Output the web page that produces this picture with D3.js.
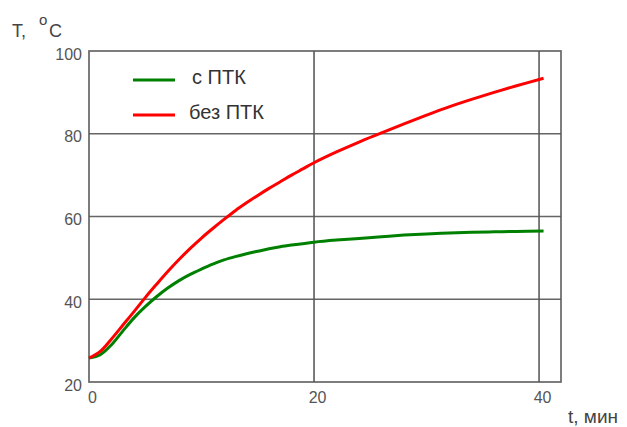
<!DOCTYPE html>
<html><head><meta charset="utf-8">
<script src="https://cdn.jsdelivr.net/npm/d3@7"></script>
<style>
html,body{margin:0;padding:0;background:#fff;}
svg{display:block;font-family:"Liberation Sans",Arial,sans-serif;}
</style></head>
<body><svg id="c" width="627" height="427"></svg>
<script>
// Data
const timesRed = [0,1,2,3,4,5,6,7,8,9,10,11,12,13,14,15,16,17,18,19,20,22,24,26,28,30,32,34,36,38,40.4];
const tempRed  = [25.8,27.4,30.4,33.7,37.0,40.4,43.6,46.7,49.6,52.3,54.8,57.1,59.3,61.4,63.3,65.1,66.8,68.4,70.0,71.5,73.0,75.6,78.0,80.2,82.4,84.5,86.5,88.3,90.0,91.6,93.4];
const timesGreen = [0,1,2,3,4,5,6,7,8,9,10,11,12,13,14,15,16,17,18,20,22,24,26,28,30,32,34,36,38,40.4];
const tempGreen  = [25.8,26.6,29.0,32.3,35.5,38.2,40.6,42.7,44.5,46.0,47.3,48.5,49.5,50.3,51.0,51.6,52.2,52.7,53.1,53.8,54.3,54.7,55.1,55.5,55.8,56.0,56.2,56.3,56.4,56.5];
const xTicks = [0,20,40];
const yTicks = [20,40,60,80,100];
const seriesNames = ["с ПТК","без ПТК"];
const seriesColors = ["#008000","#ff0000"];

const svg = d3.select("#c");
const L=89, R=561, T=51, B=382;
const x = d3.scaleLinear().domain([0,41.95]).range([L,R]);
const y = d3.scaleLinear().domain([20,100]).range([B,T]);

const gridColor = "#555";
// grid
svg.append("g").selectAll("line").data([20,40]).join("line")
  .attr("x1",d=>x(d)).attr("x2",d=>x(d)).attr("y1",T).attr("y2",B)
  .attr("stroke",gridColor).attr("stroke-width",1.7).attr("opacity",0.9);
svg.append("g").selectAll("line").data([40,60,80]).join("line")
  .attr("x1",L).attr("x2",R).attr("y1",d=>y(d)).attr("y2",d=>y(d))
  .attr("stroke",gridColor).attr("stroke-width",1.7).attr("opacity",0.9);
// frame
svg.append("rect").attr("x",L).attr("y",T).attr("width",R-L).attr("height",B-T)
  .attr("fill","none").attr("stroke",gridColor).attr("stroke-width",1.7).attr("opacity",0.9);

// axes labels
const yAxis = d3.axisLeft(y).tickValues(yTicks).tickSize(0).tickPadding(7).tickFormat(d3.format("d"));
const gy = svg.append("g").attr("transform",`translate(${L},0)`).call(yAxis);
gy.select(".domain").remove();
gy.selectAll("text").attr("font-size",16).attr("fill","#555").attr("font-family","Liberation Sans, Arial, sans-serif").attr("dy","0.5em");

const xAxis = d3.axisBottom(x).tickValues(xTicks).tickSize(0).tickPadding(10).tickFormat(d3.format("d"));
const gx = svg.append("g").attr("transform",`translate(3,${B})`).call(xAxis);
gx.select(".domain").remove();
gx.selectAll("text").attr("font-size",16).attr("fill","#555").attr("font-family","Liberation Sans, Arial, sans-serif");

// lines
const line = d3.line().x(d=>x(d[0])).y(d=>y(d[1])).curve(d3.curveCatmullRom);
const green = timesGreen.map((t,i)=>[t,tempGreen[i]]);
const red = timesRed.map((t,i)=>[t,tempRed[i]]);
svg.append("path").datum(green).attr("d",line).attr("fill","none").attr("stroke",seriesColors[0]).attr("stroke-width",3);
svg.append("path").datum(red).attr("d",line).attr("fill","none").attr("stroke",seriesColors[1]).attr("stroke-width",3);

// legend
const leg = svg.append("g");
const legY = [80,115], legTextY=[84,119], legTextX=[192,189];
seriesNames.forEach((n,i)=>{
  leg.append("line").attr("x1",133).attr("x2",175).attr("y1",legY[i]).attr("y2",legY[i])
    .attr("stroke",seriesColors[i]).attr("stroke-width",3);
  leg.append("text").attr("x",legTextX[i]).attr("y",legTextY[i]).text(n)
    .attr("font-size",20).attr("fill","#333");
});

// axis titles
const tt = svg.append("text").attr("x",12).attr("y",37).attr("font-size",18).attr("fill","#444");
tt.append("tspan").text("T,");
tt.append("tspan").attr("x",39).attr("y",25).attr("font-size",15).text("o");
tt.append("tspan").attr("x",49).attr("y",37).text("C");
svg.append("text").attr("x",568).attr("y",423).attr("font-size",19).attr("fill","#444").text("t, мин");
</script></body></html>
